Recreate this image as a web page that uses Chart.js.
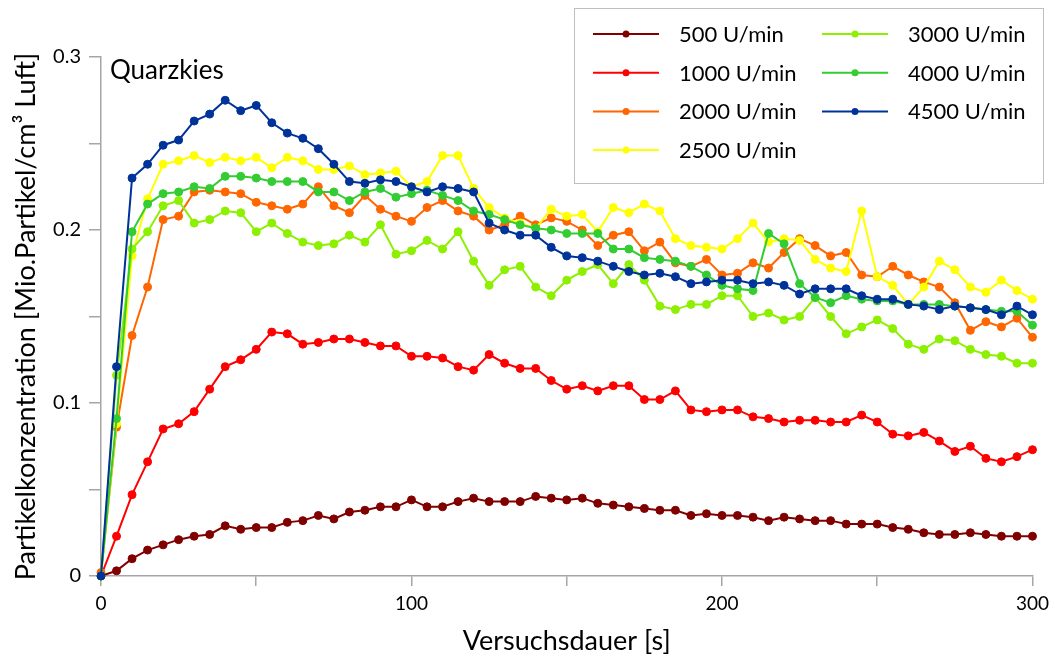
<!DOCTYPE html>
<html>
<head>
<meta charset="utf-8">
<script src="https://cdn.jsdelivr.net/npm/chart.js@4"></script>
<style>
  html, body { margin: 0; padding: 0; background: #fff; }
  #wrap { width: 1055px; height: 661px; }
</style>
</head>
<body>
<div id="wrap"><canvas id="quarz"></canvas></div>
<script>
// Versuchsdauer in s
var zeit = [0, 5, 10, 15, 20, 25, 30, 35, 40, 45, 50, 55, 60, 65, 70, 75, 80, 85, 90, 95,
  100, 105, 110, 115, 120, 125, 130, 135, 140, 145, 150, 155, 160, 165, 170, 175, 180, 185, 190, 195,
  200, 205, 210, 215, 220, 225, 230, 235, 240, 245, 250, 255, 260, 265, 270, 275, 280, 285, 290, 295, 300];

// Partikelkonzentration [Mio. Partikel/cm3 Luft] je Drehzahl
var u500 = [0, 0.003, 0.010, 0.015, 0.018, 0.021, 0.023, 0.024, 0.029, 0.027, 0.028, 0.028, 0.031, 0.032, 0.035, 0.033, 0.037, 0.038, 0.040, 0.040,
  0.044, 0.040, 0.040, 0.043, 0.045, 0.043, 0.043, 0.043, 0.046, 0.045, 0.044, 0.045, 0.042, 0.041, 0.040, 0.039, 0.038, 0.038, 0.035, 0.036,
  0.035, 0.035, 0.034, 0.032, 0.034, 0.033, 0.032, 0.032, 0.030, 0.030, 0.030, 0.028, 0.027, 0.025, 0.024, 0.024, 0.025, 0.024, 0.023, 0.023, 0.023];
var u1000 = [0, 0.023, 0.047, 0.066, 0.085, 0.088, 0.095, 0.108, 0.121, 0.125, 0.131, 0.141, 0.140, 0.134, 0.135, 0.137, 0.137, 0.135, 0.133, 0.133,
  0.127, 0.127, 0.126, 0.121, 0.119, 0.128, 0.123, 0.120, 0.120, 0.113, 0.108, 0.110, 0.107, 0.110, 0.110, 0.102, 0.102, 0.107, 0.096, 0.095,
  0.096, 0.096, 0.092, 0.091, 0.089, 0.090, 0.090, 0.089, 0.089, 0.093, 0.089, 0.082, 0.081, 0.083, 0.078, 0.072, 0.075, 0.068, 0.066, 0.069, 0.073];
var u2000 = [0.002, 0.086, 0.139, 0.167, 0.206, 0.208, 0.222, 0.223, 0.222, 0.221, 0.216, 0.214, 0.212, 0.215, 0.225, 0.214, 0.210, 0.220, 0.212, 0.208,
  0.205, 0.213, 0.217, 0.211, 0.208, 0.200, 0.203, 0.208, 0.203, 0.207, 0.205, 0.200, 0.191, 0.197, 0.199, 0.188, 0.193, 0.181, 0.179, 0.183,
  0.174, 0.175, 0.181, 0.178, 0.187, 0.195, 0.191, 0.185, 0.187, 0.174, 0.173, 0.179, 0.174, 0.170, 0.167, 0.158, 0.142, 0.147, 0.144, 0.149, 0.138];
var u2500 = [0, 0.088, 0.185, 0.218, 0.238, 0.240, 0.243, 0.239, 0.242, 0.240, 0.242, 0.236, 0.242, 0.240, 0.235, 0.235, 0.237, 0.232, 0.233, 0.234,
  0.225, 0.228, 0.243, 0.243, 0.224, 0.213, 0.207, 0.204, 0.201, 0.212, 0.208, 0.209, 0.199, 0.213, 0.210, 0.215, 0.211, 0.195, 0.191, 0.190,
  0.189, 0.195, 0.204, 0.193, 0.195, 0.194, 0.183, 0.178, 0.176, 0.211, 0.173, 0.168, 0.157, 0.167, 0.182, 0.177, 0.167, 0.164, 0.171, 0.165, 0.160];
var u3000 = [0, 0.116, 0.189, 0.199, 0.214, 0.217, 0.204, 0.206, 0.211, 0.210, 0.199, 0.204, 0.198, 0.193, 0.191, 0.192, 0.197, 0.193, 0.203, 0.186,
  0.188, 0.194, 0.189, 0.199, 0.182, 0.168, 0.177, 0.179, 0.167, 0.162, 0.171, 0.176, 0.180, 0.169, 0.180, 0.171, 0.156, 0.154, 0.157, 0.157,
  0.162, 0.162, 0.150, 0.152, 0.148, 0.150, 0.161, 0.150, 0.140, 0.144, 0.148, 0.143, 0.134, 0.131, 0.137, 0.136, 0.131, 0.128, 0.127, 0.123, 0.123];
var u4000 = [0, 0.091, 0.199, 0.215, 0.221, 0.222, 0.225, 0.224, 0.231, 0.231, 0.230, 0.228, 0.228, 0.228, 0.222, 0.222, 0.217, 0.222, 0.224, 0.219,
  0.221, 0.223, 0.220, 0.217, 0.211, 0.209, 0.206, 0.203, 0.201, 0.200, 0.198, 0.198, 0.198, 0.189, 0.189, 0.184, 0.183, 0.182, 0.179, 0.174,
  0.168, 0.166, 0.165, 0.198, 0.192, 0.169, 0.161, 0.158, 0.162, 0.160, 0.159, 0.159, 0.157, 0.157, 0.157, 0.156, 0.155, 0.154, 0.153, 0.153, 0.145];
var u4500 = [0, 0.121, 0.230, 0.238, 0.249, 0.252, 0.263, 0.267, 0.275, 0.269, 0.272, 0.262, 0.256, 0.253, 0.247, 0.238, 0.228, 0.227, 0.229, 0.228,
  0.225, 0.222, 0.225, 0.224, 0.222, 0.204, 0.200, 0.197, 0.197, 0.190, 0.185, 0.184, 0.182, 0.179, 0.176, 0.174, 0.175, 0.173, 0.169, 0.170,
  0.171, 0.171, 0.169, 0.170, 0.168, 0.163, 0.166, 0.166, 0.166, 0.162, 0.160, 0.160, 0.157, 0.156, 0.154, 0.156, 0.155, 0.154, 0.151, 0.156, 0.151];

var namen = ['500 U/min', '1000 U/min', '2000 U/min', '2500 U/min', '3000 U/min', '4000 U/min', '4500 U/min'];
var reihen = [u500, u1000, u2000, u2500, u3000, u4000, u4500];
var farben = ['#800000', '#ff0000', '#ff6600', '#ffff00', '#8cf000', '#33cc33', '#003399'];

var schrift = 'Lato, "DejaVu Sans", sans-serif';
var grau = '#a6a6a6';

function punkte(werte) {
  return zeit.map(function (t, i) { return { x: t, y: werte[i] }; });
}

var datasets = reihen.map(function (werte, i) {
  return {
    label: namen[i],
    data: punkte(werte),
    borderColor: farben[i],
    backgroundColor: farben[i],
    pointBackgroundColor: farben[i],
    pointBorderColor: farben[i],
    borderWidth: 2,
    pointRadius: 4,
    pointBorderWidth: 1,
    tension: 0,
    clip: false,
    order: reihen.length - 1 - i   // hoehere Drehzahl oben
  };
});

// Legende im Kasten (2 Spalten) und Probenbezeichnung
var beschriftung = {
  id: 'beschriftung',
  afterDraw: function (chart) {
    var ctx = chart.ctx;
    var area = chart.chartArea;
    ctx.save();

    ctx.fillStyle = '#000';
    ctx.font = '26px ' + schrift;
    ctx.textBaseline = 'alphabetic';
    ctx.textAlign = 'left';
    ctx.fillText('Quarzkies', area.left + 9, 79);

    var bx = 574, by = 8, bw = 469, bh = 175;
    ctx.fillStyle = '#fff';
    ctx.fillRect(bx, by, bw, bh);
    ctx.strokeStyle = '#bfbfbf';
    ctx.lineWidth = 1;
    ctx.strokeRect(bx + 0.5, by + 0.5, bw, bh);

    ctx.font = '22px ' + schrift;
    ctx.textBaseline = 'middle';
    chart.data.datasets.forEach(function (ds, i) {
      var spalte = i < 4 ? 0 : 1;
      var zeile = i < 4 ? i : i - 4;
      var lx = spalte === 0 ? 593 : 822;
      var ly = 34 + zeile * 38.7;
      ctx.strokeStyle = ds.borderColor;
      ctx.lineWidth = 2;
      ctx.beginPath();
      ctx.moveTo(lx, ly);
      ctx.lineTo(lx + 66, ly);
      ctx.stroke();
      ctx.fillStyle = ds.borderColor;
      ctx.beginPath();
      ctx.arc(lx + 33, ly, 3.5, 0, Math.PI * 2);
      ctx.fill();
      ctx.fillStyle = '#000';
      ctx.fillText(ds.label, lx + 86, ly + 1);
    });
    ctx.restore();
  }
};

new Chart(document.getElementById('quarz'), {
  type: 'line',
  data: { datasets: datasets },
  plugins: [beschriftung],
  options: {
    responsive: true,
    maintainAspectRatio: false,
    animation: false,
    events: [],
    layout: { padding: { top: 57, right: 21, left: 0, bottom: 0 } },
    plugins: {
      legend: { display: false },
      tooltip: { enabled: false }
    },
    scales: {
      x: {
        type: 'linear',
        min: 0,
        max: 300,
        afterFit: function (scale) { scale.height = 85; },
        border: { display: true, color: grau, width: 1.5 },
        grid: { drawOnChartArea: false, drawTicks: true, tickLength: 10, color: grau, lineWidth: 1.5 },
        ticks: {
          stepSize: 50,
          maxRotation: 0,
          padding: 6,
          color: '#000',
          font: { family: schrift, size: 19 },
          callback: function (v) { return v % 100 === 0 ? String(v) : ''; }
        },
        title: {
          display: true,
          text: 'Versuchsdauer [s]',
          color: '#000',
          font: { family: schrift, size: 27 },
          padding: { top: 0, bottom: 4 }
        }
      },
      y: {
        min: 0,
        max: 0.3,
        afterFit: function (scale) { scale.width = 101; },
        border: { display: true, color: grau, width: 1.5 },
        grid: { drawOnChartArea: false, drawTicks: true, tickLength: 12, color: grau, lineWidth: 1.5 },
        ticks: {
          stepSize: 0.05,
          padding: 8,
          color: '#000',
          font: { family: schrift, size: 20 },
          callback: function (v) {
            var z = v * 10;
            if (Math.abs(z - Math.round(z)) > 1e-6) return '';
            return Math.round(z) === 0 ? '0' : (Math.round(z) / 10).toFixed(1);
          }
        },
        title: {
          display: true,
          text: 'Partikelkonzentration [Mio.Partikel/cm³ Luft]',
          color: '#000',
          font: { family: schrift, size: 27 },
          padding: { top: 10, bottom: 0 }
        }
      }
    }
  }
});
</script>
</body>
</html>
